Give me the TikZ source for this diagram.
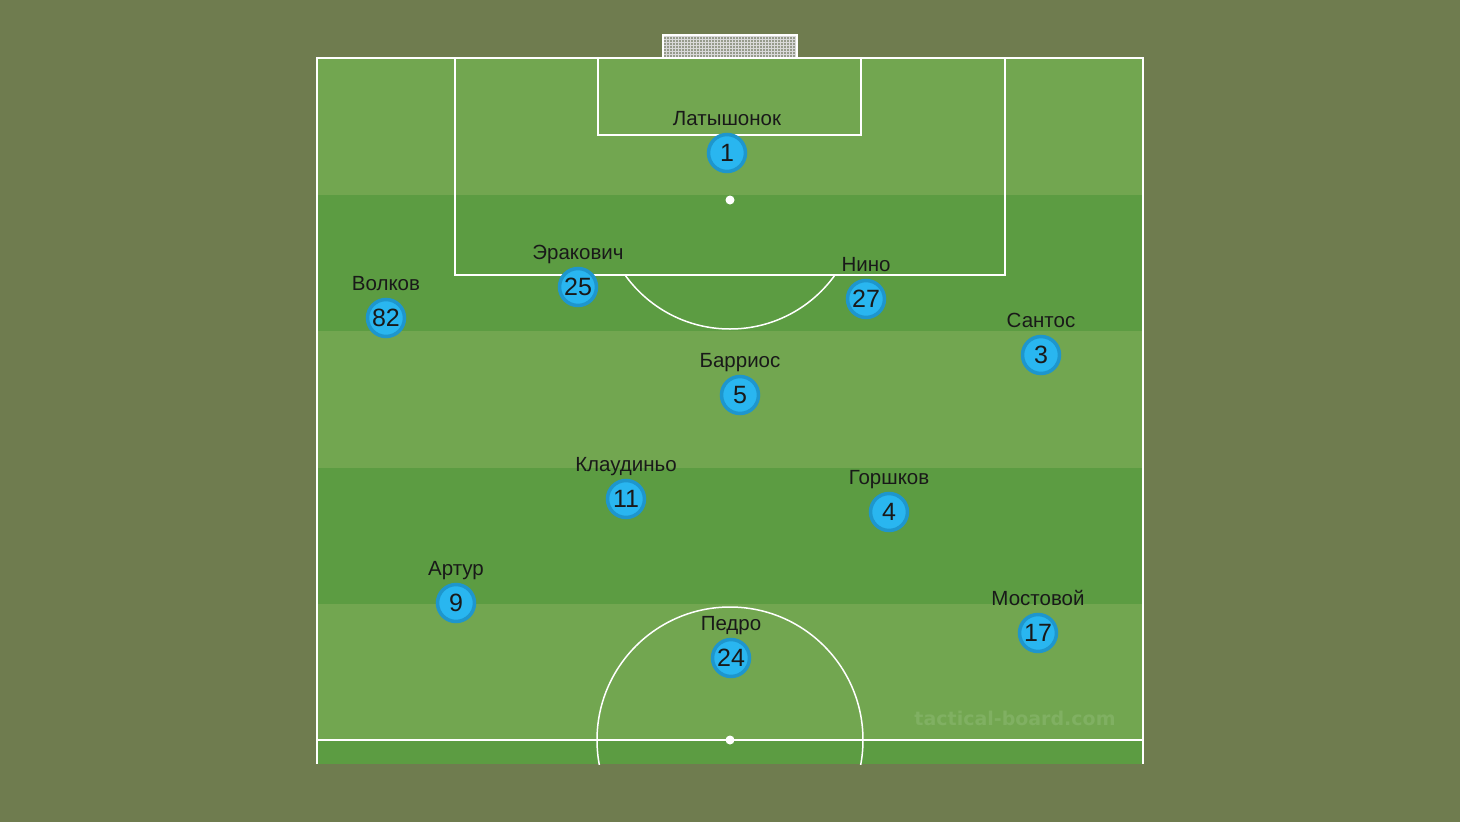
\documentclass[tikz,border=0pt]{standalone}
\usepackage{fontspec}
\setmainfont{Liberation Sans}
\newfontfamily\stampfont{DejaVu Sans}
\usetikzlibrary{positioning}
\definecolor{bgolive}{RGB}{111,124,79}
\definecolor{lightturf}{RGB}{114,166,80}
\definecolor{darkturf}{RGB}{92,156,66}
\definecolor{playerfill}{RGB}{41,182,240}
\definecolor{playerring}{RGB}{30,150,205}
\definecolor{stamp}{RGB}{128,176,98}
\definecolor{netgray}{RGB}{150,155,140}
\begin{document}
\begin{tikzpicture}[x=1pt,y=-1pt,
   pitchline/.style={white,line width=1.5pt},
   player/.style={circle,fill=playerfill,draw=playerring,line width=3.5pt,
      minimum size=37pt,inner sep=0pt,text=black!90,
      font=\fontsize{25}{25}\selectfont},
   playername/.style={inner sep=0pt,text depth=0pt,text=black!90,
      font=\fontsize{20.5}{20.5}\selectfont}]
   \useasboundingbox (0,0) rectangle (1460,822);
   \fill [bgolive] (0,0) rectangle (1460,822);
   % turf stripes
   \fill [darkturf] (317,58) rectangle (1143,764);
   \foreach \i in {0,2,4}
      \fill [lightturf] (317,58+136.6*\i) rectangle (1143,58+136.6*\i+136.6);
   % goal
   \fill [netgray] (663,35) rectangle (797,58);
   \draw [white!85!black,line width=0.4pt,step=3pt] (663,35) grid (797,58);
   \draw [white,line width=1.2pt] (663,58) -- (663,35) -- (797,35) -- (797,58);
   % markings
   \draw [pitchline] (317,764) -- (317,58) -- (1143,58) -- (1143,764);
   \draw [pitchline] (317,740) -- (1143,740);
   \draw [pitchline] (455,58) rectangle (1005,275);
   \draw [pitchline] (598,58) rectangle (861,135);
   \begin{scope}
      \clip (317,275) rectangle (1143,764);
      \draw [pitchline] (730,200) circle [radius=129];
   \end{scope}
   \begin{scope}
      \clip (317,58) rectangle (1143,764);
      \draw [pitchline] (730,740) circle [radius=133];
   \end{scope}
   \fill [white] (730,200) circle [radius=4.5];
   \fill [white] (730,740) circle [radius=4.5];
   \node [text=stamp,font=\stampfont\bfseries\fontsize{19}{19}\selectfont] (stamp) at (1015,718) {tactical-board.com};
   % players
   \foreach \nm/\num/\px/\py in {Латышонок/1/727/153, Эракович/25/578/287,
         Нино/27/866/299, Волков/82/386/318, Сантос/3/1041/355,
         Барриос/5/740/395, Клаудиньо/11/626/499, Горшков/4/889/512,
         Артур/9/456/603, Мостовой/17/1038/633, Педро/24/731/658} {
      \node [player] (p\num) at (\px,\py) {\num};
      \node [playername,above=7pt of p\num] (n\num) {\nm};
   }
\end{tikzpicture}
\end{document}
